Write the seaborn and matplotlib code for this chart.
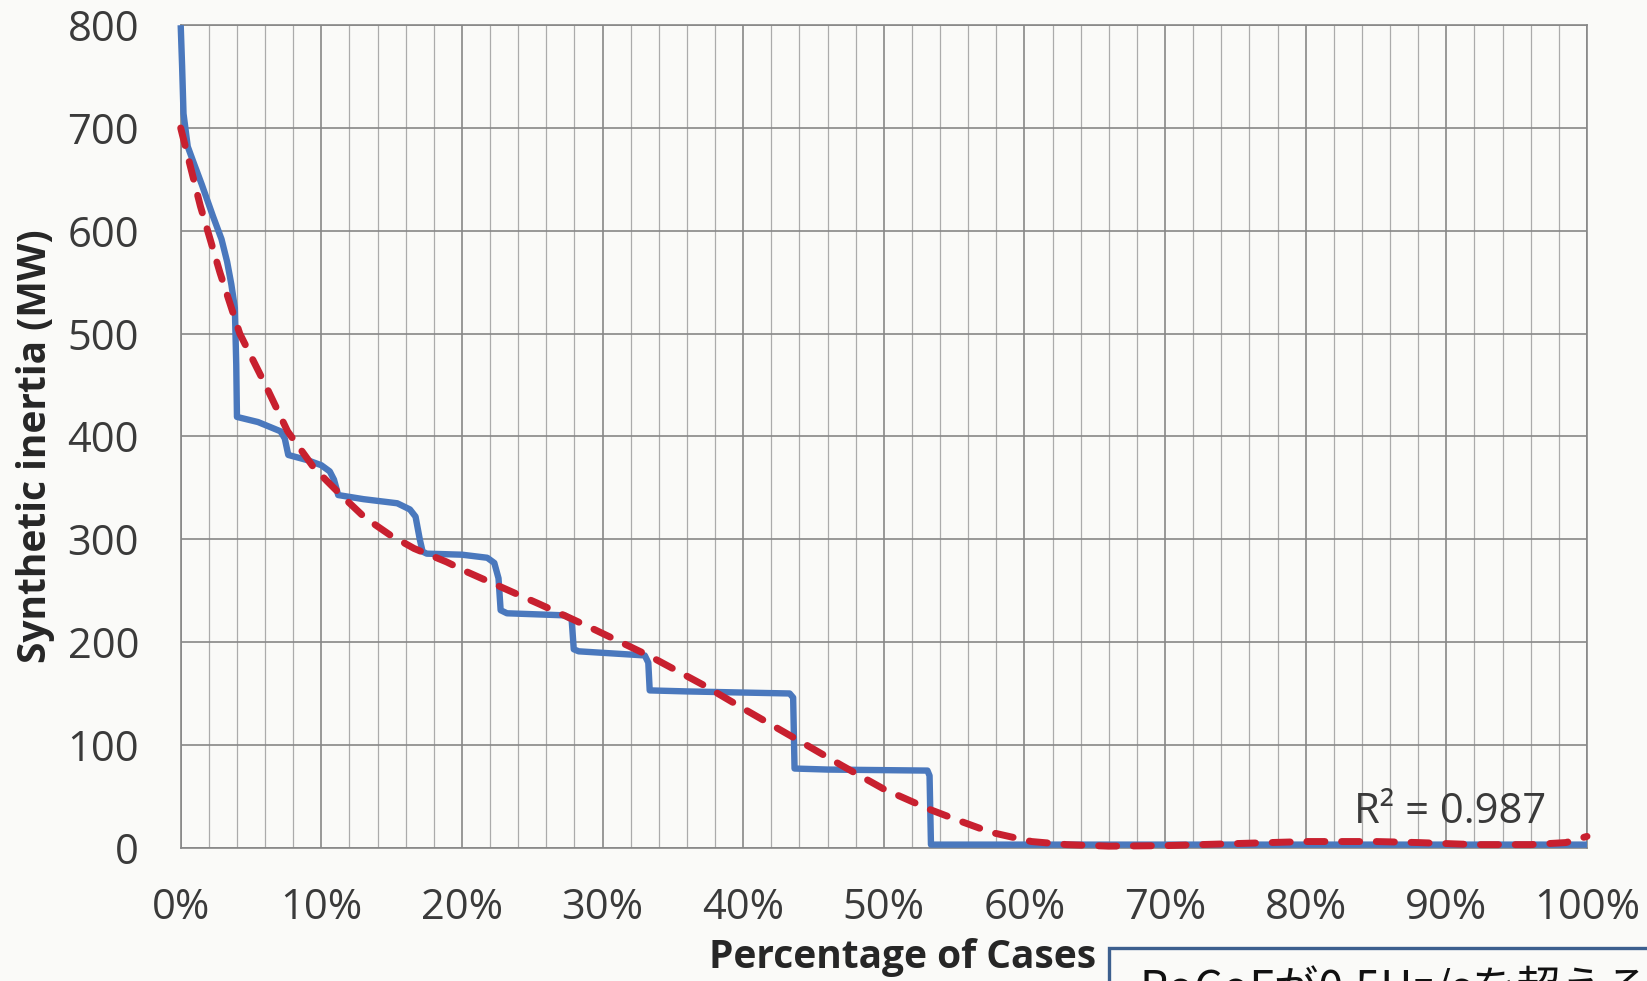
import matplotlib
matplotlib.use("Agg")
import matplotlib.pyplot as plt
import seaborn as sns
import pandas as pd
from matplotlib.patches import Rectangle
from matplotlib.ticker import MultipleLocator, FuncFormatter

# ---------------- data ----------------
# Sorted synthetic inertia requirement (duration curve)
case_pct = [0, 0.1, 0.2, 0.5, 0.9, 1.5, 2.3, 2.9, 3.3, 3.6, 3.85, 3.95, 4.0,
            5.5, 7.1, 7.4, 7.65, 9.0, 10.0, 10.6, 10.9, 11.2, 13.0, 15.4,
            16.3, 16.7, 17.0, 17.2, 17.5, 20.0, 21.8, 22.3, 22.6, 22.75,
            23.2, 27.3, 27.8, 27.95, 28.3, 33.0, 33.25, 33.35, 36.0,
            43.3, 43.55, 43.65, 46.0, 53.1, 53.25, 53.35, 70.0, 100.0]
inertia_mw = [800, 760, 714, 682, 667, 645, 614, 592, 570, 548, 525, 470, 419,
              414, 405, 398, 382, 377, 372, 366, 358, 343, 339, 335,
              329, 322, 300, 288, 286, 285, 282, 277, 262, 231,
              228, 226, 222, 193, 191, 187, 180, 153, 152,
              150, 146, 77, 76, 75, 70, 3, 3, 3]

# Polynomial trend line (R^2 = 0.987)
trend_pct = [0, 1.4, 2.8, 4.2, 6.1, 7.6, 9.5, 11.4, 13.1, 14.9, 16.6, 18.9,
             20.4, 23.2, 25.5, 27.9, 29.3, 33.4, 37.2, 40.3, 43.6, 47.0,
             50.0, 53.3, 55.6, 57.6, 60.5, 63.0, 66.0, 70.0, 75.0, 80.0,
             85.0, 88.0, 92.0, 96.0, 98.5, 100.0]
trend_mw = [700, 624, 559, 500, 448, 405, 369, 343, 321, 304, 291, 278,
            268, 251, 237, 222, 213, 186, 158, 133, 107, 80,
            57, 37, 25, 15, 6, 3, 1.5, 2, 4, 6,
            6, 5, 3, 3, 5, 11]

x_ticks = [0, 10, 20, 30, 40, 50, 60, 70, 80, 90, 100]
y_ticks = [0, 100, 200, 300, 400, 500, 600, 700, 800]
x_label = "Percentage of Cases"
y_label = "Synthetic inertia (MW)"
r2_text = "R² = 0.987"
note_text = "RoCoFが0.5Hz/sを超える頻度"

blue_df = pd.DataFrame({"pct": case_pct, "mw": inertia_mw})
red_df = pd.DataFrame({"pct": trend_pct, "mw": trend_mw})

# ---------------- style ----------------
sns.set_theme(style="white")
plt.rcParams["font.family"] = ["Open Sans", "DejaVu Sans"]

BG = "#fafaf8"
GRID_MAJ = "#878787"
GRID_MIN = "#ababab"
TXT = "#3a3a3a"

W, H = 1647, 981
fig = plt.figure(figsize=(W / 100, H / 100), dpi=100, facecolor=BG)
ax_left, ax_right = 180.7, 1587.0
ax_top, ax_bot = 25.2, 847.7
ax = fig.add_axes([ax_left / W, 1 - ax_bot / H,
                   (ax_right - ax_left) / W, (ax_bot - ax_top) / H])
ax.set_facecolor(BG)

sns.lineplot(data=blue_df, x="pct", y="mw", ax=ax, sort=False, estimator=None,
             color="#4a78bd", linewidth=4.6, clip_on=False,
             solid_joinstyle="round", solid_capstyle="butt", zorder=3)
sns.lineplot(data=red_df, x="pct", y="mw", ax=ax, sort=False, estimator=None,
             color="#c8202f", linewidth=5.0, clip_on=False, zorder=4)
red_line = ax.lines[-1]
red_line.set_dashes((2.6, 2.4))
red_line.set_dash_capstyle("round")

ax.set_xlim(0, 100)
ax.set_ylim(0, 800)
ax.set_xticks(x_ticks)
ax.set_yticks(y_ticks)
ax.xaxis.set_minor_locator(MultipleLocator(2))
ax.xaxis.set_major_formatter(FuncFormatter(lambda v, p: f"{int(v)}%"))

ax.grid(which="major", axis="both", color=GRID_MAJ, linewidth=1.2)
ax.grid(which="minor", axis="x", color=GRID_MIN, linewidth=0.9)
ax.set_axisbelow(True)
for s in ax.spines.values():
    s.set_color(GRID_MAJ)
    s.set_linewidth(1.2)

ax.tick_params(axis="both", which="major", direction="out", length=10,
               width=1.0, color=GRID_MAJ, labelsize=30, labelcolor=TXT)
ax.tick_params(axis="x", which="major", pad=18)
ax.tick_params(axis="y", which="major", pad=20)
ax.tick_params(axis="x", which="minor", length=0)

ax.set_xlabel(x_label, fontsize=28, fontweight="bold", color="#262626",
              va="baseline", ha="center")
ax.xaxis.set_label_coords((903 - ax_left) / (ax_right - ax_left),
                          -(968 - ax_bot) / (ax_bot - ax_top))
ax.set_ylabel(y_label, fontsize=28, fontweight="bold", color="#262626",
              va="center", ha="center")
ax.yaxis.set_label_coords((36 - ax_left) / (ax_right - ax_left),
                          1 - (446.5 - ax_top) / (ax_bot - ax_top))

ax.text(83.4, 35, r2_text, fontsize=30, color=TXT, ha="left", va="center")

# Annotation box (cut by the lower edge of the image, as in the source)
box = Rectangle((1109 / W, -0.08), 0.5, 0.08 + (1 - 948 / H),
                transform=fig.transFigure, facecolor=BG, edgecolor="#3c5f8e",
                linewidth=2.4, clip_on=False, zorder=5)
fig.patches.append(box)
fig.text(1139 / W, (H - 1004) / H, note_text, fontsize=32, color="#111111",
         family=["Noto Sans CJK JP", "DejaVu Sans"], ha="left",
         va="baseline", zorder=6)

fig.savefig("out.png", dpi=100, facecolor=BG)
